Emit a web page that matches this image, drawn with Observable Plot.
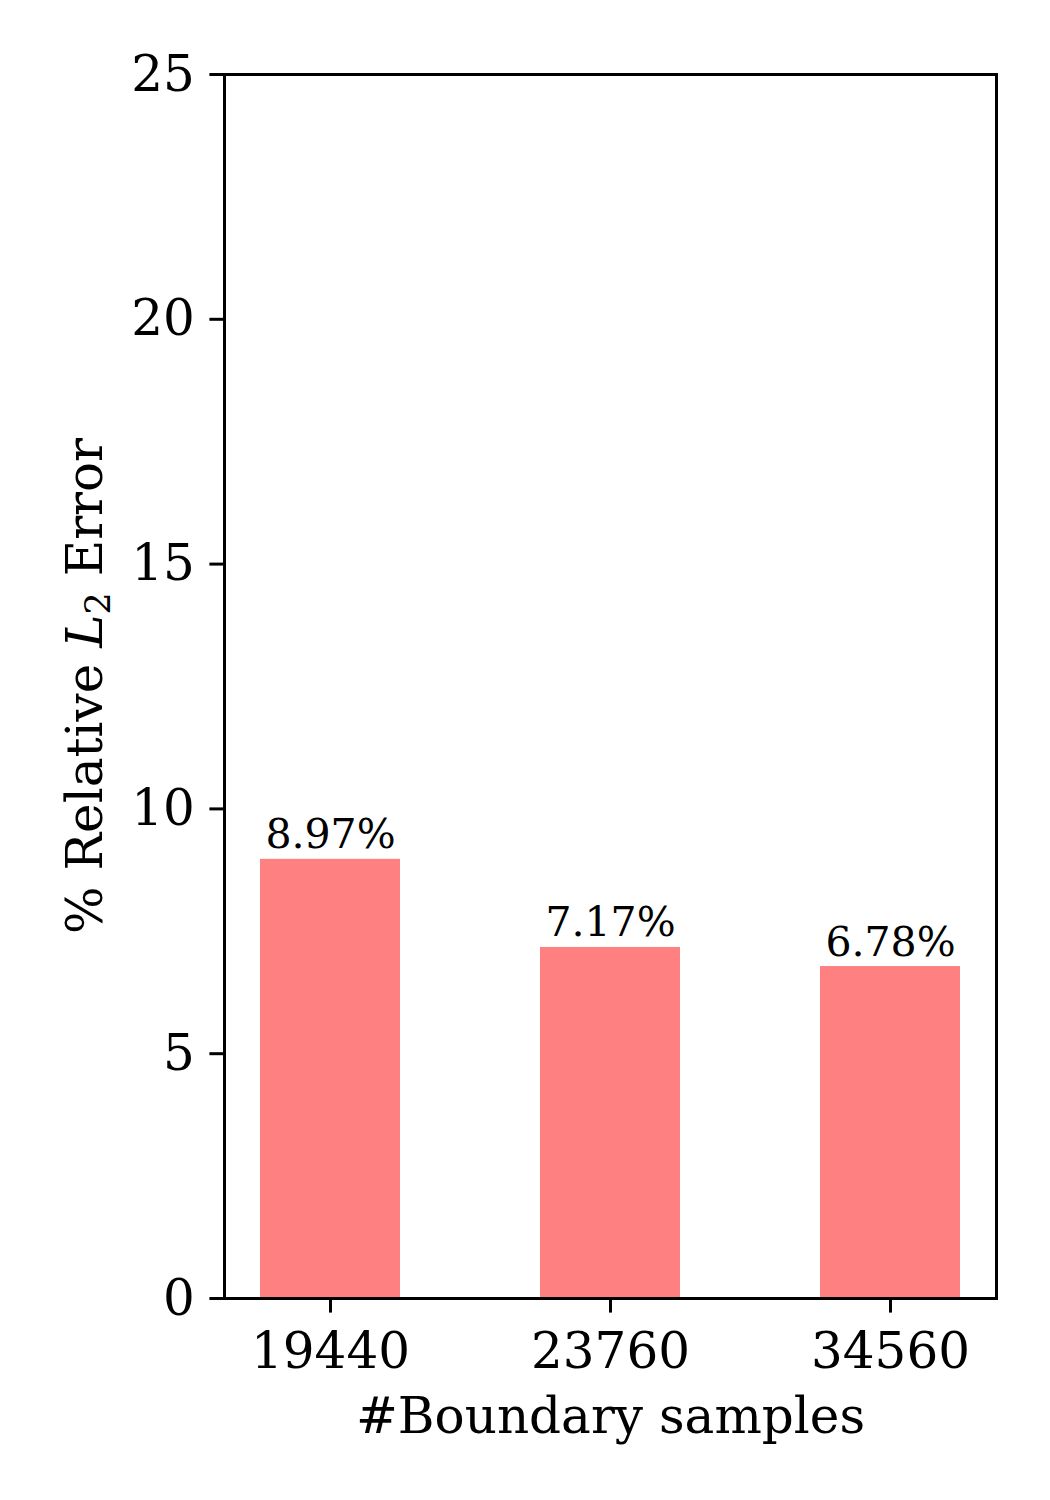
<!DOCTYPE html>
<html>
<head>
<meta charset="utf-8">
<script src="https://cdn.jsdelivr.net/npm/d3@7"></script>
<script src="https://cdn.jsdelivr.net/npm/@observablehq/plot@0.6"></script>
<style>
  html, body { margin: 0; padding: 0; background: white; }
  #chart svg { display: block; }
</style>
</head>
<body>
<div id="chart"></div>
<script>
const categories = ["19440", "23760", "34560"];
const errors = [8.97, 7.17, 6.78];
const barLabels = ["8.97%", "7.17%", "6.78%"];
const yTicks = [0, 5, 10, 15, 20, 25];
const xTitle = "#Boundary samples";

const data = categories.map((c, i) => ({cat: c, err: errors[i], label: barLabels[i]}));

const chart = Plot.plot({
  width: 1050,
  height: 1500,
  marginLeft: 224,
  marginRight: 54,
  marginTop: 74,
  marginBottom: 202,
  style: {fontFamily: "'DejaVu Serif', serif", background: "white", color: "black", maxWidth: "none"},
  x: {domain: categories, paddingInner: 0.5, paddingOuter: 0.125, align: 0.5, label: null},
  y: {domain: [0, 25], label: null},
  marks: [
    Plot.barY(data, {x: "cat", y: "err", fill: "#ff8080"}),
    Plot.text(data, {x: "cat", y: "err", text: "label", lineAnchor: "bottom", dy: -11, fontSize: 41, fill: "black"}),
    Plot.frame({stroke: "black", strokeWidth: 3}),
    Plot.axisY({ticks: yTicks, tickSize: 14.6, tickPadding: 15, fontSize: 50, strokeWidth: 3, label: null}),
    Plot.axisX({tickSize: 14.6, tickPadding: 19, fontSize: 50, strokeWidth: 3, label: null}),
    Plot.text([xTitle], {frameAnchor: "bottom", dy: 118, lineAnchor: "middle", fontSize: 50, fill: "black"})
  ]
});

document.getElementById("chart").appendChild(chart);

// Y-axis title with italic L and subscript 2
const svg = d3.select(chart);
const yt = svg.append("text")
  .attr("transform", "translate(102,686) rotate(-90)")
  .attr("text-anchor", "middle")
  .attr("font-size", 50)
  .attr("font-family", "'DejaVu Serif', serif")
  .attr("fill", "black");
yt.append("tspan").text("% Relative ");
yt.append("tspan").attr("font-style", "italic").text("L");
yt.append("tspan").attr("font-size", 35).attr("dy", "0.22em").text("2");
yt.append("tspan").attr("dy", "-0.154em").text(" Error");
</script>
</body>
</html>
